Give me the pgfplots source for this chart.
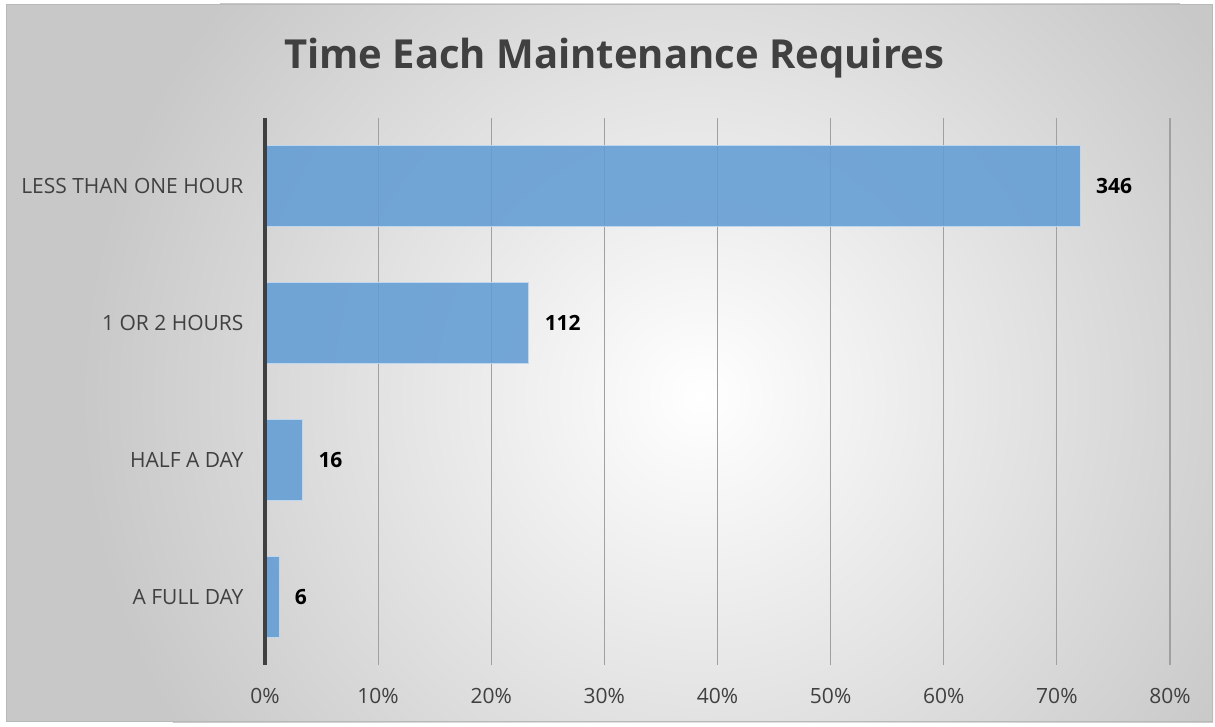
\documentclass[border=0pt]{standalone}
\usepackage{pgfplots}
\pgfplotsset{compat=1.18}
\usepackage{fontspec}
\setmainfont{Open Sans}
\definecolor{barblue}{RGB}{98,157,212}
\definecolor{baredge}{RGB}{190,215,238}
\definecolor{txtgrey}{RGB}{64,64,64}
\definecolor{gridgrey}{RGB}{160,160,160}
\definecolor{bgouter}{RGB}{200,200,200}

\begin{document}
\begin{tikzpicture}[x=1pt,y=1pt]
% canvas and framed chart area
\path (0,0) rectangle (1215,726);
\begin{scope}
  \clip (6,4) rectangle (1213,722);
  \fill[bgouter] (6,4) rectangle (1213,722);
  \shade[inner color=white, outer color=bgouter] (700,330) circle (620);
\end{scope}
\draw[gray!55, line width=1.2pt] (6.5,4.5) rectangle (1212.5,721.5);

\node[font=\fontsize{40}{46}\selectfont\bfseries, text=txtgrey] at (614,668) {Time Each Maintenance Requires};

\begin{axis}[
    at={(265pt,61pt)}, anchor=south west,
    scale only axis,
    width=905pt, height=547pt,
    xbar,
    bar width=81pt,
    xmin=0, xmax=80,
    ymin=-0.5, ymax=3.5,
    y dir=reverse,
    ytick={0,1,2,3},
    yticklabels={LESS THAN ONE HOUR, 1 OR 2 HOURS, HALF A DAY, A FULL DAY},
    xtick={0,10,...,80},
    xticklabel={\pgfmathprintnumber{\tick}\%},
    /pgf/number format/assume math mode=true,
    ticklabel style={font=\fontsize{21}{24}\selectfont, text=txtgrey},
    xticklabel style={yshift=-20pt},
    yticklabel style={xshift=-18pt},
    major tick length=0pt,
    xmajorgrids,
    grid style={gridgrey, line width=1.2pt},
    axis x line*=bottom,
    x axis line style={draw=none},
    axis y line*=left,
    y axis line style={draw=none},
    clip=false,
    nodes near coords,
    point meta=explicit symbolic,
    nodes near coords style={font=\fontsize{21}{24}\selectfont\bfseries, text=black, anchor=west, xshift=12pt},
]
\addplot[fill=barblue, fill opacity=0.88, draw=baredge, line width=1pt, text opacity=1] coordinates {
    (72.08,0) [346]
    (23.33,1) [112]
    (3.33,2) [16]
    (1.25,3) [6]
};
\draw[txtgrey, line width=4pt] (axis cs:0,-0.5) -- (axis cs:0,3.5);
\end{axis}
\end{tikzpicture}
\end{document}
